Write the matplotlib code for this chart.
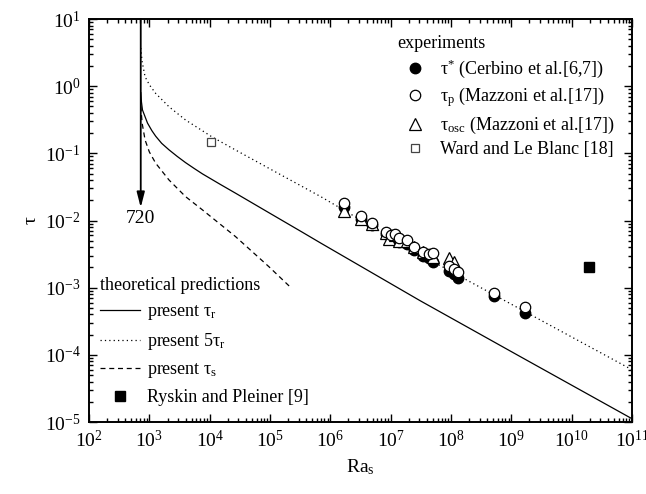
import numpy as np
import matplotlib
matplotlib.use("Agg")
import matplotlib.pyplot as plt
from matplotlib.ticker import LogLocator, NullFormatter

plt.rcParams['font.family'] = ['Liberation Serif', 'DejaVu Serif']
plt.rcParams['font.size'] = 13
plt.rcParams['mathtext.fontset'] = 'custom'
plt.rcParams['mathtext.rm'] = 'Liberation Serif'
plt.rcParams['mathtext.it'] = 'Liberation Serif:italic'
plt.rcParams['mathtext.default'] = 'regular'

# theory curves (Ra, tau)
ra_r = [721, 740, 769, 931, 1100, 1274, 1600, 2113, 2900, 3981, 5500, 7586,
        1.5e4, 2.69e4, 9.55e4, 3.43e5, 6.92e5, 3.08e7, 1.40e9, 1.0e11]
tau_r = [0.80, 0.58, 0.443, 0.283, 0.218, 0.180, 0.141, 0.113, 0.090, 0.0728,
         0.0598, 0.0495, 0.0345, 0.0255, 0.0131, 0.0067, 0.00462, 6.4e-4,
         9.44e-5, 1.12e-5]

ra_5r = [721, 760, 850, 1000, 1274, 2113, 3981, 1.08e4, 2.69e4, 9.55e4, 6.92e5,
         3.08e7, 1.0e11]
tau_5r = [3.7, 2.3, 1.38, 1.05, 0.78, 0.495, 0.314, 0.177, 0.112, 0.06, 0.0227,
          0.0031, 6.0e-5]

ra_s = [721, 760, 850, 1000, 1274, 2113, 3981, 7586, 2.69e4, 9.55e4, 2.1e5]
tau_s = [0.50, 0.28, 0.158, 0.105, 0.0713, 0.0402, 0.0227, 0.0144, 0.00575,
         0.00206, 0.00105]

# experiments
ra_cerb = [1.70e6, 3.24e6, 4.90e6, 8.5e6, 1.17e7, 1.35e7, 1.86e7, 2.4e7, 3.4e7,
           4.3e7, 5.1e7, 9.1e7, 1.12e8, 1.32e8, 5.2e8, 1.7e9]
tau_cerb = [0.0161, 0.0105, 0.0085, 0.0062, 0.0055, 0.0048, 0.0045, 0.0036,
            0.0030, 0.0028, 0.0024, 0.0018, 0.0016, 0.0014, 0.00074, 0.00042]

ra_p = [1.70e6, 3.24e6, 4.90e6, 8.5e6, 1.0e7, 1.17e7, 1.35e7, 1.86e7, 2.4e7,
        3.4e7, 4.3e7, 5.1e7, 9.1e7, 1.12e8, 1.32e8, 5.2e8, 1.7e9]
tau_p = [0.0185, 0.0118, 0.0093, 0.0068, 0.0060, 0.0063, 0.0054, 0.0052,
         0.0041, 0.0034, 0.0032, 0.0033, 0.0021, 0.0019, 0.0017, 0.00083, 0.00052]

ra_osc = [1.70e6, 3.24e6, 4.90e6, 8.5e6, 9.5e6, 1.17e7, 1.35e7, 1.86e7, 2.4e7,
          3.4e7, 5.1e7, 9.1e7, 1.12e8]
tau_osc = [0.0137, 0.0105, 0.0090, 0.0066, 0.0053, 0.0060, 0.0050, 0.0050,
           0.0041, 0.0034, 0.0029, 0.0028, 0.0024]

ra_ward = [1.07e4]
tau_ward = [0.149]

ra_ryskin = [1.95e10]
tau_ryskin = [2.06e-3]

ra_crit = 720

fig = plt.figure(figsize=(6.46, 4.94), dpi=100)
ax = fig.add_axes([0.1378, 0.1457, 0.8405, 0.8158])

l1, = ax.plot(ra_r, tau_r, color='k', lw=0.9, label=r'present τ$_{r}$')
l2, = ax.plot(ra_5r, tau_5r, color='k', lw=0.9, linestyle=(0, (1, 2.5)),
              label=r'present 5τ$_{r}$')
l3, = ax.plot(ra_s, tau_s, color='k', lw=0.9, linestyle=(0, (4, 3)),
              label=r'present τ$_{s}$')

m1, = ax.plot(ra_cerb, tau_cerb, 'o', color='k', ms=7.5, ls='none',
              label=r'τ$^{*}$ (Cerbino et al.[6,7])')
m3, = ax.plot(ra_osc, tau_osc, '^', mfc='white', mec='k', mew=0.9, ms=8, ls='none',
              label=r'τ$_{osc}$ (Mazzoni et al.[17])')
m2, = ax.plot(ra_p, tau_p, 'o', mfc='white', mec='k', mew=0.9, ms=7.5, ls='none',
              label=r'τ$_{p}$ (Mazzoni et al.[17])')
m4, = ax.plot(ra_ward, tau_ward, 's', mfc='white', mec='#444444', mew=0.9, ms=6,
              ls='none', label='Ward and Le Blanc [18]')
m5, = ax.plot(ra_ryskin, tau_ryskin, 's', color='k', ms=6.5, ls='none',
              label='Ryskin and Pleiner [9]')

ax.annotate('', xy=(ra_crit, 0.0156), xytext=(ra_crit, 10),
            arrowprops=dict(arrowstyle='-|>,head_length=0.7,head_width=0.18',
                            color='k', lw=1.3, shrinkA=0, shrinkB=0))
ax.text(ra_crit, 0.0108, '720', ha='center', va='center', fontsize=14)

ax.set_xscale('log')
ax.set_yscale('log')
ax.set_xlim(1e2, 1e11)
ax.set_ylim(1e-5, 1e1)
ax.xaxis.set_major_locator(LogLocator(base=10, numticks=20))
ax.xaxis.set_minor_locator(LogLocator(base=10, subs=np.arange(2, 10), numticks=20))
ax.yaxis.set_major_locator(LogLocator(base=10, numticks=20))
ax.yaxis.set_minor_locator(LogLocator(base=10, subs=np.arange(2, 10), numticks=20))
ax.xaxis.set_minor_formatter(NullFormatter())
ax.yaxis.set_minor_formatter(NullFormatter())
ax.tick_params(which='both', direction='in', top=True, right=True, width=1.0)
ax.tick_params(which='major', length=6, labelsize=14, pad=6)
ax.tick_params(which='minor', length=3)
for s in ax.spines.values():
    s.set_linewidth(1.4)

ax.set_xlabel('Ra$_{s}$', fontsize=14, labelpad=4)
ax.set_ylabel('τ', fontsize=14, labelpad=4)

leg1 = ax.legend(handles=[m1, m2, m3, m4], title='experiments', loc='upper left',
                 bbox_to_anchor=(0.567, 0.96), frameon=False, borderpad=0,
                 borderaxespad=0, handlelength=2, handletextpad=0.4,
                 labelspacing=0.3, fontsize=13, title_fontsize=13, alignment='left')
ax.add_artist(leg1)
ax.legend(handles=[l1, l2, l3, m5], title='theoretical predictions', loc='upper left',
          bbox_to_anchor=(0.02, 0.36), frameon=False, borderpad=0,
          borderaxespad=0, handlelength=2.2, handletextpad=0.4, labelspacing=0.5,
          fontsize=13, title_fontsize=13, alignment='left')

fig.savefig('out.png', dpi=100)
